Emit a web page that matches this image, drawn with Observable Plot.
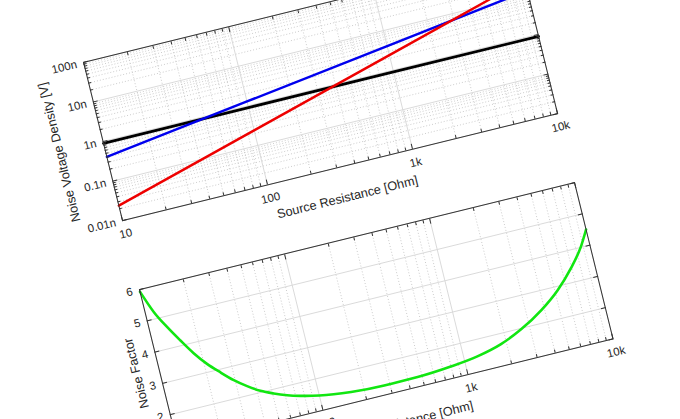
<!DOCTYPE html>
<html><head><meta charset="utf-8">
<script src="https://cdn.jsdelivr.net/npm/d3@7"></script>
<script src="https://cdn.jsdelivr.net/npm/@observablehq/plot@0.6"></script>
<style>
html,body{margin:0;padding:0;background:#fff;overflow:hidden;width:680px;height:419px;}
#fig{position:absolute;left:0;top:0;transform-origin:0 0;width:540px;height:470px;}
#fig svg{position:absolute;left:0;overflow:visible;}
</style></head><body><div id="fig"></div>
<script>
// ---- data ----
const resistance = [10, 100, 1000, 10000];
const amplifierNoise = [0.9e-9, 0.9e-9, 0.9e-9, 0.9e-9];
const thermalNoise = [0.41e-9, 1.29e-9, 4.07e-9, 12.9e-9];
const currentNoise = [0.024e-9, 0.24e-9, 2.4e-9, 24e-9];

const nfResistance = [10, 11.4, 13.2, 15.3, 17.8, 20.9, 24.8, 29.4, 35.1, 42.1, 50.9, 61.8, 75.5, 100, 163, 274, 466, 796, 1231, 1822, 2617, 3805, 5226, 6900, 8630, 10000];
const noiseFactor  = [5.93, 5.22, 4.66, 4.16, 3.68, 3.26, 2.90, 2.57, 2.29, 2.05, 1.87, 1.72, 1.60, 1.47, 1.34, 1.29, 1.30, 1.37, 1.48, 1.67, 1.97, 2.40, 2.88, 3.44, 4.00, 4.50];

const xTicks = [10, 100, 1000, 10000];
const xTickLabels = ["10", "100", "1k", "10k"];
const yTicksTop = [1e-11, 1e-10, 1e-9, 1e-8, 1e-7];
const yTickLabelsTop = ["0.01n", "0.1n", "1n", "10n", "100n"];
const yTicksBottom = [1, 2, 3, 4, 5, 6];
const yTickLabelsBottom = ["1", "2", "3", "4", "5", "6"];

const xLabel = "Source Resistance [Ohm]";
const yLabelTop = "Noise Voltage Density [V]";
const yLabelBottom = "Noise Factor";

// minor tick positions of the log axes
function minorOf(majors) {
  const out = [];
  for (let i = 0; i < majors.length - 1; i++) for (let k = 2; k <= 9; k++) out.push(majors[i] * k);
  return out;
}
const xMinor = minorOf(xTicks);
const yMinorTop = minorOf(yTicksTop);

// ---- layout ----
const ML = 70, MR = 20, MT = 10, MB = 50, W = 448, H1 = 163, H2 = 161, GAP = 234;
const ink = "#333333";
const font = "'Liberation Sans', Arial, Helvetica, sans-serif";
const tickFs = 11.5, labelFs = 12.7;
const majorGrid = "#d9d9d9", minorGrid = "#c4c4c4";

function lookup(ticks, labels) { return d => labels[ticks.indexOf(d)] ?? ""; }

function boxTicks(xMaj, xMin, yMaj, yMin) {
  const m = [];
  for (const anchor of ["bottom", "top"]) {
    m.push(Plot.axisX({anchor, ticks: xMaj, tickSize: -5, tickFormat: () => "", stroke: ink, label: null}));
    if (xMin) m.push(Plot.axisX({anchor, ticks: xMin, tickSize: -3, tickFormat: () => "", stroke: ink, label: null}));
  }
  for (const anchor of ["left", "right"]) {
    m.push(Plot.axisY({anchor, ticks: yMaj, tickSize: -5, tickFormat: () => "", stroke: ink, label: null}));
    if (yMin) m.push(Plot.axisY({anchor, ticks: yMin, tickSize: -3, tickFormat: () => "", stroke: ink, label: null}));
  }
  return m;
}

const style = {fontFamily: font, fontSize: tickFs + "px", color: "#262626", background: "transparent"};

const topChart = Plot.plot({
  width: ML + W + MR, height: MT + H1 + MB,
  marginLeft: ML, marginRight: MR, marginTop: MT, marginBottom: MB,
  style,
  x: {type: "log", domain: [10, 10000]},
  y: {type: "log", domain: [1e-11, 1e-7]},
  marks: [
    Plot.ruleX(xMinor, {stroke: minorGrid, strokeDasharray: "1,2", strokeWidth: 0.8}),
    Plot.ruleY(yMinorTop, {stroke: minorGrid, strokeDasharray: "1,2", strokeWidth: 0.8}),
    Plot.ruleX(xTicks, {stroke: majorGrid, strokeWidth: 0.9}),
    Plot.ruleY(yTicksTop, {stroke: majorGrid, strokeWidth: 0.9}),
    Plot.line(resistance, {x: resistance, y: amplifierNoise, stroke: "#000000", strokeWidth: 2.8}),
    Plot.line(resistance, {x: resistance, y: thermalNoise, stroke: "#0000ee", strokeWidth: 2.4}),
    Plot.line(resistance, {x: resistance, y: currentNoise, stroke: "#ee0000", strokeWidth: 2.4}),
    ...boxTicks(xTicks, xMinor, yTicksTop, yMinorTop),
    Plot.axisX({anchor: "bottom", ticks: xTicks, tickSize: 0, tickPadding: 9, tickFormat: lookup(xTicks, xTickLabels), fontSize: tickFs, label: null}),
    Plot.axisY({anchor: "left", ticks: yTicksTop, tickSize: 0, tickPadding: 7, tickFormat: lookup(yTicksTop, yTickLabelsTop), fontSize: tickFs, label: null}),
    Plot.text([xLabel], {frameAnchor: "bottom", dy: 31, fontSize: labelFs, textAnchor: "middle", lineAnchor: "middle", fill: "#262626"}),
    Plot.text([yLabelTop], {frameAnchor: "left", rotate: -90, dx: -45, fontSize: labelFs, textAnchor: "middle", lineAnchor: "middle", fill: "#262626"}),
    Plot.frame({stroke: ink, strokeWidth: 1})
  ]
});

const bottomChart = Plot.plot({
  width: ML + W + MR, height: MT + H2 + MB,
  marginLeft: ML, marginRight: MR, marginTop: MT, marginBottom: MB,
  style,
  x: {type: "log", domain: [10, 10000]},
  y: {type: "linear", domain: [1, 6]},
  marks: [
    Plot.ruleX(xMinor, {stroke: minorGrid, strokeDasharray: "1,2", strokeWidth: 0.8}),
    Plot.ruleX(xTicks, {stroke: majorGrid, strokeWidth: 0.9}),
    Plot.ruleY(yTicksBottom, {stroke: majorGrid, strokeWidth: 0.9}),
    Plot.line(nfResistance, {x: nfResistance, y: noiseFactor, stroke: "#11e611", strokeWidth: 2.6, curve: "monotone-x"}),
    ...boxTicks(xTicks, xMinor, yTicksBottom, null),
    Plot.axisX({anchor: "bottom", ticks: xTicks, tickSize: 0, tickPadding: 9, tickFormat: lookup(xTicks, xTickLabels), fontSize: tickFs, label: null}),
    Plot.axisY({anchor: "left", ticks: yTicksBottom, tickSize: 0, tickPadding: 7, tickFormat: lookup(yTicksBottom, yTickLabelsBottom), fontSize: tickFs, label: null}),
    Plot.text([xLabel], {frameAnchor: "bottom", dy: 31, fontSize: labelFs, textAnchor: "middle", lineAnchor: "middle", fill: "#262626"}),
    Plot.text([yLabelBottom], {frameAnchor: "left", rotate: -90, dx: -23, fontSize: labelFs, textAnchor: "middle", lineAnchor: "middle", fill: "#262626"}),
    Plot.frame({stroke: ink, strokeWidth: 1})
  ]
});

const fig = document.getElementById("fig");
topChart.style.top = "0px";
bottomChart.style.top = GAP + "px";
fig.appendChild(topChart);
fig.appendChild(bottomChart);
fig.style.transform = `translate(83px, 62px) rotate(-13.82deg) translate(${-ML}px, ${-MT}px)`;
</script>
</body></html>
